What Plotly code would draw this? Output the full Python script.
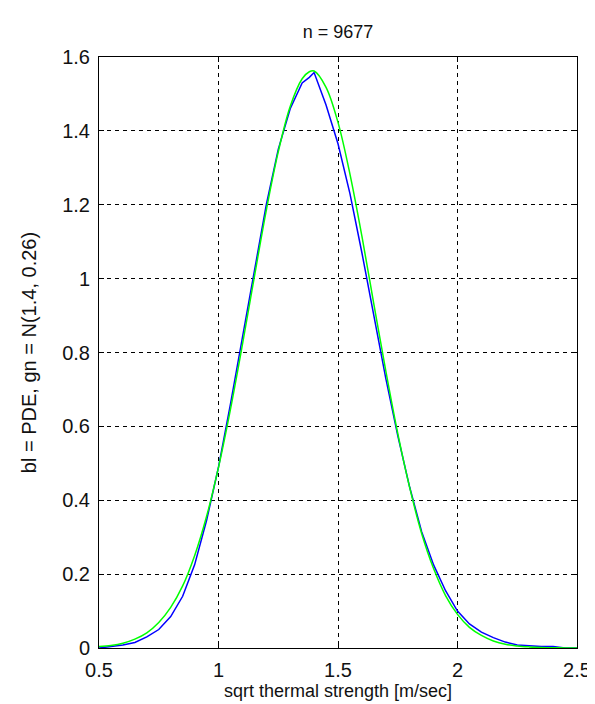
import plotly.graph_objects as go

title_text = "n = 9677"
x_title = "sqrt thermal strength [m/sec]"
y_title = "bl = PDE, gn = N(1.4, 0.26)"

x_vals = [0.50, 0.55, 0.60, 0.65, 0.70, 0.75, 0.80, 0.85, 0.90, 0.95,
          1.00, 1.05, 1.10, 1.15, 1.20, 1.25, 1.30, 1.35, 1.38, 1.40,
          1.45, 1.50, 1.55, 1.60, 1.65, 1.70, 1.75, 1.80, 1.85, 1.90,
          1.95, 2.00, 2.05, 2.10, 2.15, 2.20, 2.25, 2.30, 2.35, 2.40,
          2.45, 2.50]

pde_vals = [0.000, 0.003, 0.008, 0.015, 0.030, 0.050, 0.085, 0.140, 0.225, 0.345,
            0.490, 0.660, 0.840, 1.020, 1.200, 1.350, 1.460, 1.530, 1.545, 1.558,
            1.470, 1.365, 1.230, 1.070, 0.900, 0.730, 0.575, 0.435, 0.315, 0.225,
            0.155, 0.100, 0.065, 0.043, 0.028, 0.016, 0.008, 0.005, 0.004, 0.004,
            0.000, 0.000]

normal_vals = [0.004, 0.007, 0.013, 0.024, 0.041, 0.069, 0.110, 0.168, 0.250, 0.356,
               0.489, 0.646, 0.821, 1.005, 1.185, 1.343, 1.466, 1.541, 1.560, 1.562,
               1.518, 1.423, 1.283, 1.115, 0.931, 0.750, 0.581, 0.434, 0.310, 0.215,
               0.142, 0.091, 0.056, 0.034, 0.019, 0.010, 0.0055, 0.003, 0.0015, 0.0007,
               0.0003, 0.0001]

x_ticks = [0.5, 1, 1.5, 2, 2.5]
x_tick_labels = ["0.5", "1", "1.5", "2", "2.5"]
y_ticks = [0, 0.2, 0.4, 0.6, 0.8, 1, 1.2, 1.4, 1.6]
y_tick_labels = ["0", "0.2", "0.4", "0.6", "0.8", "1", "1.2", "1.4", "1.6"]

fig = go.Figure()
fig.add_trace(go.Scatter(x=x_vals, y=pde_vals, mode="lines",
                         line=dict(color="#0000ff", width=1.5), showlegend=False))
fig.add_trace(go.Scatter(x=x_vals, y=normal_vals, mode="lines",
                         line=dict(color="#00ff00", width=1.5, shape="spline"), showlegend=False))

font_family = "Liberation Sans, Arial, sans-serif"

fig.update_layout(
    width=595, height=704,
    margin=dict(l=91, r=15, t=49, b=64),
    paper_bgcolor="white", plot_bgcolor="white",
    font=dict(family=font_family, color="#111111", size=16),
    title=dict(text=title_text, x=0.5, xref="paper", xanchor="center",
               y=1 - 24 / 704, yanchor="middle", font=dict(size=18)),
    xaxis=dict(range=[0.5, 2.5], tickvals=x_ticks, ticktext=x_tick_labels,
               showgrid=True, gridcolor="black", griddash="4px,4px", gridwidth=1,
               showline=True, linecolor="black", linewidth=1, mirror="ticks",
               ticks="inside", ticklen=5, tickcolor="black",
               tickfont=dict(size=20), zeroline=False, ticklabelstandoff=4,
               title=dict(text=x_title, font=dict(size=18), standoff=0)),
    yaxis=dict(range=[0, 1.6], tickvals=y_ticks, ticktext=y_tick_labels,
               showgrid=True, gridcolor="black", griddash="4px,4px", gridwidth=1,
               showline=True, linecolor="black", linewidth=1, mirror="ticks",
               ticks="inside", ticklen=5, tickcolor="black",
               tickfont=dict(size=20), zeroline=False, ticklabelstandoff=4,
               title=dict(text=y_title, font=dict(size=20), standoff=20)),
)

fig.write_html("out.html")
